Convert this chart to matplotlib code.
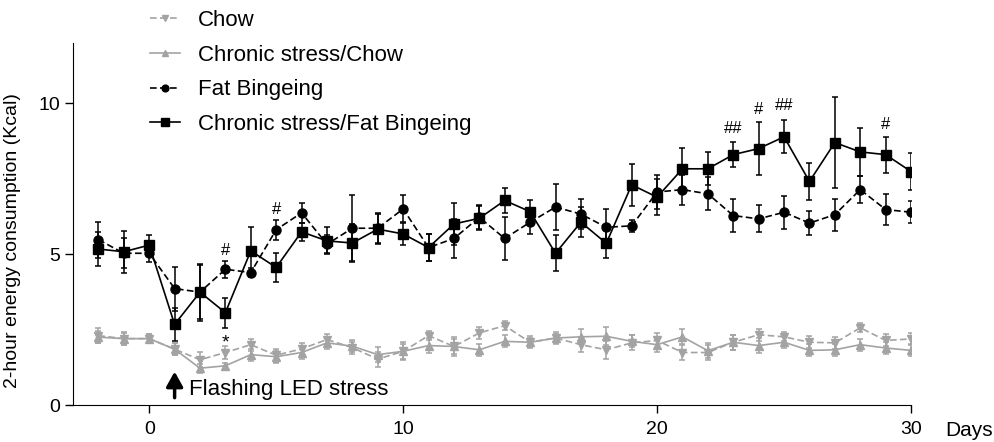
"""Energy intake over days: chow vs fat bingeing, with and without chronic stress."""
import matplotlib
matplotlib.use('Agg')
import matplotlib.pyplot as plt
import numpy as np

plt.rcParams['font.family'] = ['Liberation Sans', 'DejaVu Sans']

days = list(range(-2, 31))

# Chow (grey, dashed, down triangles)
chow = [2.30, 2.20, 2.20, 1.85, 1.50, 1.74, 2.00, 1.65, 1.86, 2.17, 1.90, 1.52, 1.78,
        2.30, 1.94, 2.39, 2.63, 2.08, 2.22, 2.00, 1.83, 2.06, 2.14, 1.74, 1.74, 2.08,
        2.33, 2.26, 2.08, 2.06, 2.56, 2.14, 2.19]
chow_err = [0.25, 0.22, 0.15, 0.20, 0.25, 0.20, 0.20, 0.22, 0.20, 0.18, 0.20, 0.25, 0.30,
            0.15, 0.25, 0.20, 0.15, 0.20, 0.20, 0.25, 0.30, 0.25, 0.25, 0.25, 0.25, 0.25,
            0.20, 0.15, 0.20, 0.20, 0.15, 0.20, 0.20]

# Chronic stress / Chow (grey, solid, up triangles)
cs_chow = [2.25, 2.20, 2.20, 1.85, 1.22, 1.30, 1.67, 1.60, 1.74, 2.06, 1.95, 1.67, 1.78,
           1.97, 1.94, 1.83, 2.11, 2.08, 2.22, 2.26, 2.28, 2.11, 2.00, 2.26, 1.80, 2.08,
           1.97, 2.08, 1.81, 1.83, 2.00, 1.89, 1.81]
cs_chow_err = [0.20, 0.20, 0.15, 0.20, 0.15, 0.10, 0.20, 0.20, 0.20, 0.20, 0.20, 0.25, 0.25,
               0.25, 0.30, 0.20, 0.20, 0.15, 0.15, 0.25, 0.30, 0.20, 0.25, 0.25, 0.25, 0.25,
               0.25, 0.20, 0.20, 0.20, 0.20, 0.20, 0.20]

# Fat Bingeing (black, dashed, circles)
fat = [5.48, 5.03, 5.03, 3.86, 3.74, 4.50, 4.39, 5.81, 6.37, 5.33, 5.86, 5.86, 6.50,
       5.22, 5.52, 6.22, 5.52, 6.06, 6.56, 6.33, 5.89, 5.94, 7.06, 7.14, 7.00, 6.28,
       6.17, 6.39, 6.03, 6.31, 7.14, 6.48, 6.39]
fat_err = [0.60, 0.50, 0.30, 0.73, 0.90, 0.28, 0.15, 0.33, 0.33, 0.30, 1.10, 0.50, 0.45,
           0.45, 0.65, 0.40, 0.70, 0.40, 0.75, 0.50, 0.60, 0.20, 0.55, 0.50, 0.55, 0.54,
           0.45, 0.55, 0.40, 0.53, 0.45, 0.50, 0.37]

# Chronic stress / Fat Bingeing (black, solid, squares)
cs_fat = [5.17, 5.08, 5.30, 2.67, 3.74, 3.06, 5.11, 4.56, 5.74, 5.44, 5.37, 5.83, 5.67,
          5.22, 6.00, 6.19, 6.78, 6.41, 5.03, 6.06, 5.36, 7.30, 6.89, 7.83, 7.83, 8.30,
          8.50, 8.89, 7.41, 8.70, 8.39, 8.30, 7.74]
cs_fat_err = [0.55, 0.70, 0.33, 0.55, 0.95, 0.50, 0.78, 0.48, 0.30, 0.45, 0.63, 0.50, 0.35,
              0.45, 0.70, 0.40, 0.40, 0.40, 0.60, 0.50, 0.50, 0.70, 0.60, 0.70, 0.55, 0.42,
              0.87, 0.55, 0.60, 1.50, 0.80, 0.60, 0.60]

# significance marks: (day, y, text)
marks_x = [3, 3, 5, 23, 24, 25, 29]
marks_y = [5.13, 2.07, 6.48, 9.17, 9.80, 9.93, 9.30]
marks_txt = ['#', '*', '#', '##', '#', '##', '#']

grey = '#a3a3a4'

fig = plt.figure(figsize=(9.95, 4.42), dpi=100)
ax = fig.add_axes([0.0734, 0.0837, 0.9156 - 0.0734, 0.9027 - 0.0837])

common = dict(capsize=2.5, elinewidth=1.1, capthick=1.1, linewidth=1.2)
h1 = ax.errorbar(days, chow, yerr=chow_err, fmt='v', linestyle='--', color=grey,
                 markersize=6, dashes=(4, 2), **common)
h2 = ax.errorbar(days, cs_chow, yerr=cs_chow_err, fmt='^', linestyle='-', color=grey,
                 markersize=6, **common)
h3 = ax.errorbar(days, fat, yerr=fat_err, fmt='o', linestyle='--', color='black',
                 markersize=6.5, dashes=(4, 2), **common)
h4 = ax.errorbar(days, cs_fat, yerr=cs_fat_err, fmt='s', linestyle='-', color='black',
                 markersize=7, **common)

for x, y, t in zip(marks_x, marks_y, marks_txt):
    ax.text(x, y, t, ha='center', va='center', fontsize=14 if t == '*' else 12)

# stress onset arrow + label
ax.annotate('', xy=(1, 1.2), xytext=(1, 0.15),
            arrowprops=dict(arrowstyle='-|>,head_width=0.5,head_length=0.9',
                            color='black', lw=2.5))
ax.text(1.55, 0.5, 'Flashing LED stress', ha='left', va='center', fontsize=16)

ax.set_xlim(-3, 30)
ax.set_ylim(0, 12)
ax.set_xticks([0, 10, 20, 30])
ax.set_yticks([0, 5, 10])
ax.tick_params(labelsize=14, length=5.5, width=1, direction='out')
ax.tick_params(axis='x', pad=6)
ax.spines['top'].set_visible(False)
ax.spines['right'].set_visible(False)
ax.set_ylabel('2-hour energy consumption (Kcal)', fontsize=14)
ax.yaxis.set_label_coords(-0.062, 0.455)
fig.text(0.950, 0.027, 'Days', ha='left', va='center', fontsize=15)

fig.legend([h1.lines[0], h2.lines[0], h3.lines[0], h4.lines[0]],
           ['Chow', 'Chronic stress/Chow', 'Fat Bingeing', 'Chronic stress/Fat Bingeing'],
           loc='upper left', bbox_to_anchor=(0.151, 0.978), frameon=False, fontsize=16,
           markerscale=0.75, handlelength=1.35, handletextpad=0.8, labelspacing=0.62,
           borderpad=0, borderaxespad=0)

plt.savefig('out.png', dpi=100)
plt.close()
